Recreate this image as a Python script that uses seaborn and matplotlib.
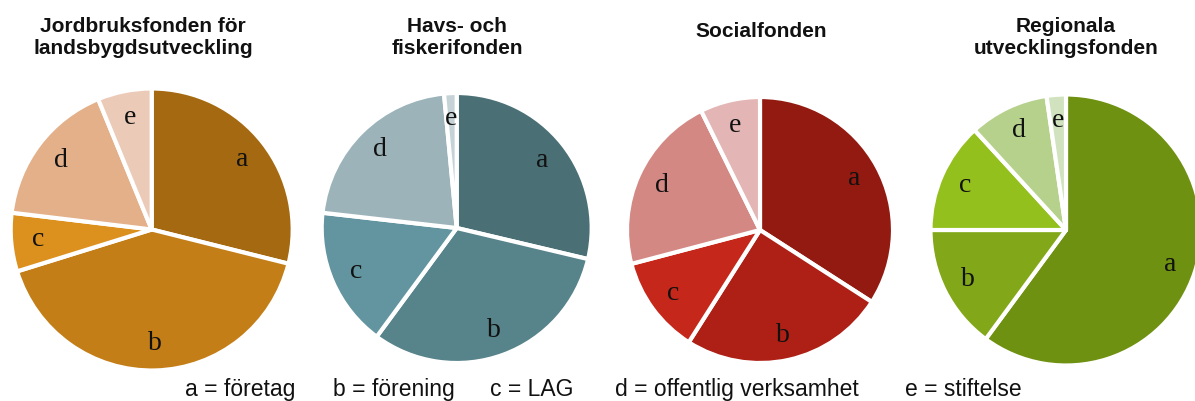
import matplotlib
matplotlib.use("Agg")
import matplotlib.pyplot as plt
import seaborn as sns

sns.set_theme(style="white")
plt.rcParams['font.family'] = ['Liberation Sans', 'DejaVu Sans']

# ---- data ----
categories = ["a", "b", "c", "d", "e"]
category_names = ["företag", "förening", "LAG", "offentlig verksamhet", "stiftelse"]
fund_titles = [
    ["Jordbruksfonden för", "landsbygdsutveckling"],
    ["Havs- och", "fiskerifonden"],
    ["Socialfonden"],
    ["Regionala", "utvecklingsfonden"],
]
jordbruk = [28.9, 41.3, 6.7, 16.9, 6.2]
havs = [28.7, 31.4, 16.7, 21.7, 1.5]
social = [34.1, 24.9, 11.9, 21.8, 7.3]
regional = [60.1, 14.9, 13.2, 9.5, 2.3]

palettes = [
    ["#A56A11", "#C47E17", "#DC901E", "#E3B089", "#EBCBB8"],
    ["#4A7075", "#57838A", "#62959F", "#9BB3B9", "#C5D3D7"],
    ["#921A10", "#AE1F15", "#C5281A", "#D48884", "#E3B5B4"],
    ["#6E9111", "#82A819", "#94C01E", "#B5D18C", "#D1E3BE"],
]
series = [jordbruk, havs, social, regional]

# ---- layout (pixels) ----
W, H = 1195, 401
fig = plt.figure(figsize=(W / 100, H / 100), dpi=100)
fig.patch.set_facecolor("white")

centers = [(151.7, 229.5, 141), (456.7, 228.0, 135), (760.0, 230.0, 133), (1066.0, 230.0, 135.5)]
title_pos = [(143, [31.7, 54.3]), (457, [31.7, 54.3]), (761, [37.3]), (1066, [31.7, 54.3])]

for vals, cols, (cx, cy, r), titles, (tx, tys) in zip(series, palettes, centers, fund_titles, title_pos):
    ax = fig.add_axes([(cx - r) / W, (H - cy - r) / H, 2 * r / W, 2 * r / H])
    wedges, texts = ax.pie(
        vals, labels=categories, colors=cols, startangle=90, counterclock=False,
        labeldistance=0.81, radius=1,
        wedgeprops=dict(edgecolor="white", linewidth=3.0, joinstyle="round"),
        textprops=dict(family=["Liberation Serif", "DejaVu Serif"], fontsize=20, color="#111111",
                       ha="center", va="center"),
    )
    for t in texts:
        t.set_horizontalalignment("center")
    ax.set_xlim(-1.0, 1.0)
    ax.set_ylim(-1.0, 1.0)
    ax.set_aspect("equal")
    ax.axis("off")
    for line, ty in zip(titles, tys):
        fig.text(tx / W, 1 - ty / H, line, ha="center", va="baseline",
                 fontsize=15, fontweight="bold", color="#111111")

legend_x = [185, 333, 490, 615, 905]
for cat, name, lx in zip(categories, category_names, legend_x):
    fig.text(lx / W, 1 - 396 / H, f"{cat} = {name}", ha="left", va="baseline",
             fontsize=16.5, color="#111111")

fig.savefig("out.png", dpi=100, facecolor="white")
